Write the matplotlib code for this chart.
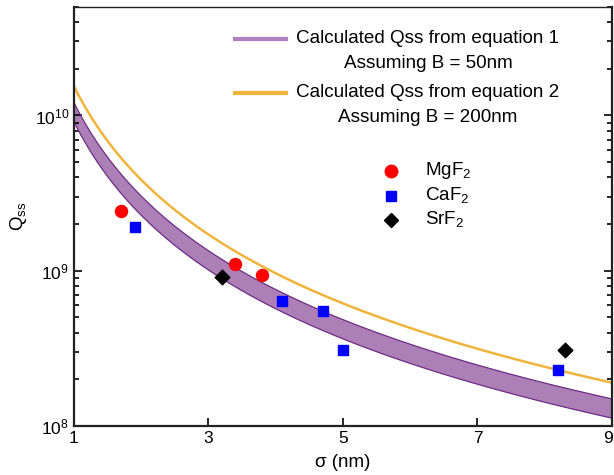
import numpy as np
import matplotlib
matplotlib.use("Agg")
import matplotlib.pyplot as plt
import matplotlib.transforms as mtransforms
from matplotlib.lines import Line2D

plt.rcParams['font.family'] = ['Liberation Sans', 'DejaVu Sans']
plt.rcParams['mathtext.fontset'] = 'custom'
plt.rcParams['mathtext.rm'] = 'Liberation Sans'

# Experimental data (sigma in nm, Qss)
mgf2_sigma = [1.7, 3.4, 3.8]
mgf2_q = [2.43e9, 1.10e9, 0.935e9]
caf2_sigma = [1.9, 4.1, 4.7, 5.0, 8.2]
caf2_q = [1.91e9, 6.35e8, 5.47e8, 3.1e8, 2.3e8]
srf2_sigma = [3.2, 8.3]
srf2_q = [9.1e8, 3.1e8]

# Calculated curves: Qss = C / sigma^2 (coefficients)
eq1_coef_low = 9.1e9
eq1_coef_high = 1.21e10
eq2_coef = 1.54e10
sigma = np.linspace(1, 9, 300)
eq1_low = eq1_coef_low / sigma**2
eq1_high = eq1_coef_high / sigma**2
eq2 = eq2_coef / sigma**2

legend1_labels = [("Calculated Qss from equation 1", "Assuming B = 50nm"),
                  ("Calculated Qss from equation 2", "Assuming B = 200nm")]
legend2_labels = [r"MgF$_\mathrm{2}$", r"CaF$_\mathrm{2}$", r"SrF$_\mathrm{2}$"]
xticks = [1, 3, 5, 7, 9]

fig = plt.figure(figsize=(6.14, 4.75), dpi=100)
ax = fig.add_axes([0.1205, 0.1032, 0.8762, 0.8821])

ax.fill_between(sigma, eq1_low, eq1_high, facecolor='#AD7FB7', edgecolor='none', zorder=1)
ax.plot(sigma, eq1_low, color='#6E2C85', lw=0.9, zorder=2)
ax.plot(sigma, eq1_high, color='#6E2C85', lw=0.9, zorder=2)
ax.plot(sigma, eq2, color='#F0B43C', lw=1.8, zorder=2)

ax.scatter(mgf2_sigma, mgf2_q, marker='o', s=75, color='#FF0000', zorder=3)
ax.scatter(caf2_sigma, caf2_q, marker='s', s=50, color='#0000FF', zorder=3)
ax.scatter(srf2_sigma, srf2_q, marker='D', s=55, color='black', zorder=3)

ax.set_yscale('log')
ax.set_xlim(1, 9)
ax.set_ylim(1e8, 5e10)
ax.set_xticks(xticks)
ax.set_xticklabels([str(t) for t in xticks])
ax.tick_params(which='both', direction='in', right=True, top=False, labelsize=12.5, width=1.2)
ax.tick_params(which='major', length=6)
ax.tick_params(which='minor', length=3.5)
for s in ax.spines.values():
    s.set_linewidth(1.6)
    s.set_color('#222222')
ax.spines['top'].set_linewidth(1.0)

# keep the last x tick label inside the figure
last = ax.get_xticklabels()[-1]
last.set_transform(last.get_transform() +
                   mtransforms.ScaledTranslation(-4 / 100, 0, fig.dpi_scale_trans))

ax.set_xlabel("σ (nm)", fontsize=13.5, labelpad=6)
ax.set_ylabel(r"Q$_\mathrm{ss}$", fontsize=13.5, labelpad=4)

# Legend 1 (lines), drawn manually to mimic the reference layout
line_colors = ['#B07FBF', '#F0B43C']
entry_y = [(0.924, 0.864), (0.795, 0.737)]
for (l1, l2), c, (y1, y2) in zip(legend1_labels, line_colors, entry_y):
    ax.add_line(Line2D([0.299, 0.394], [y1, y1], transform=ax.transAxes,
                       color=c, lw=3, clip_on=False))
    ax.text(0.658, y1, l1, transform=ax.transAxes, ha='center', va='center', fontsize=13.6)
    ax.text(0.658, y2, l2, transform=ax.transAxes, ha='center', va='center', fontsize=13.6)

# Legend 2 (markers)
mk_specs = [dict(marker='o', color='#FF0000', markersize=9),
            dict(marker='s', color='#0000FF', markersize=7),
            dict(marker='D', color='black', markersize=7.5)]
mk_y = [0.609, 0.549, 0.492]
for lab, spec, y in zip(legend2_labels, mk_specs, mk_y):
    ax.add_line(Line2D([0.589], [y], transform=ax.transAxes, ls='none', clip_on=False, **spec))
    ax.text(0.652, y, lab, transform=ax.transAxes, ha='left', va='center', fontsize=13.6)

fig.savefig("out.png", dpi=100)
